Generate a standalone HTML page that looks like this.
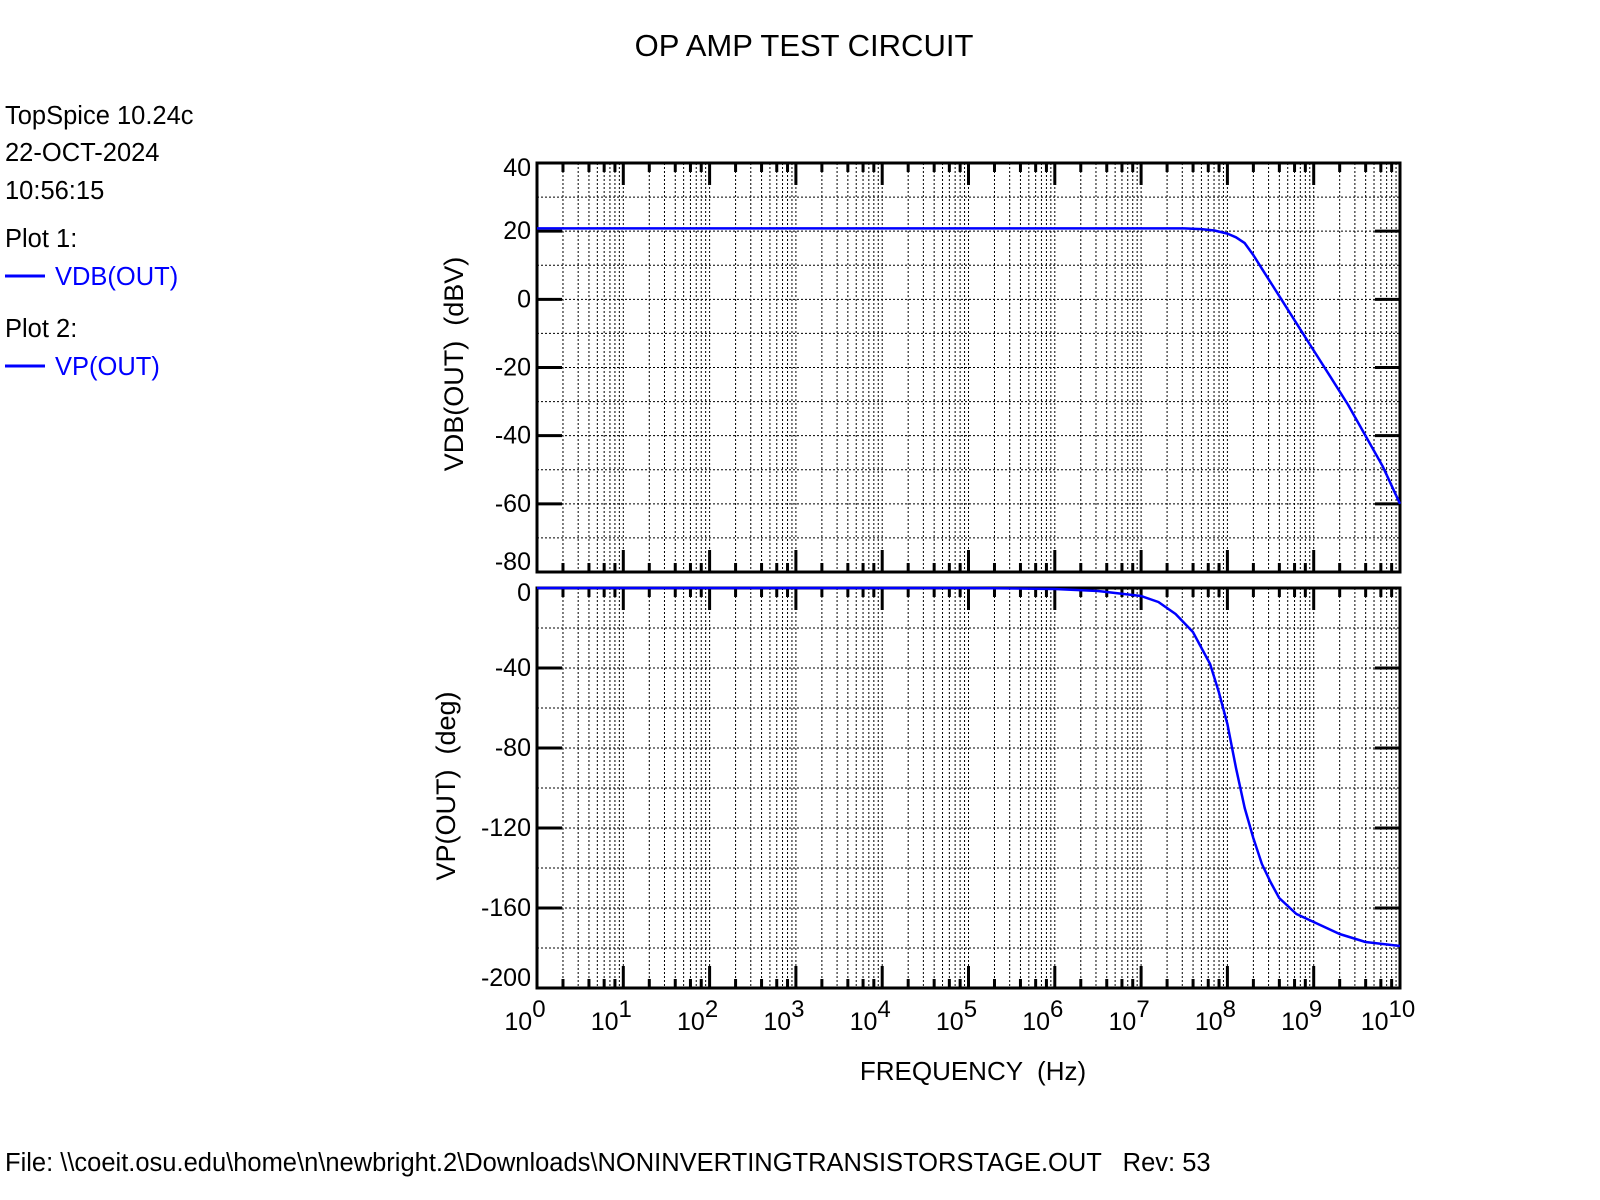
<!DOCTYPE html>
<html><head><meta charset="utf-8"><style>
html,body{margin:0;padding:0;background:#fff;}
svg{display:block;font-family:"Liberation Sans",Arial,sans-serif;}
text{white-space:pre;}
</style></head><body>
<svg id="chart" width="1600" height="1200" viewBox="0 0 1600 1200">
<text x="804" y="56" font-size="31" text-anchor="middle">OP AMP TEST CIRCUIT</text>
<g font-size="25.5">
<text x="5" y="124">TopSpice 10.24c</text>
<text x="5" y="161">22-OCT-2024</text>
<text x="5" y="199">10:56:15</text>
<text x="5" y="247">Plot 1:</text>
<line x1="5" y1="276" x2="45" y2="276" stroke="#0000ff" stroke-width="3"/>
<text x="55" y="285" fill="#0000ff">VDB(OUT)</text>
<text x="5" y="337">Plot 2:</text>
<line x1="5" y1="366" x2="45" y2="366" stroke="#0000ff" stroke-width="3"/>
<text x="55" y="375" fill="#0000ff">VP(OUT)</text>
</g>
<text transform="translate(463,364) rotate(-90)" font-size="27" text-anchor="middle">VDB(OUT)  (dBV)</text>
<text transform="translate(455,786) rotate(-90)" font-size="27" text-anchor="middle">VP(OUT)  (deg)</text>
<text x="973" y="1080" font-size="26" text-anchor="middle">FREQUENCY  (Hz)</text>
<text x="5" y="1171" font-size="25.5">File: \\coeit.osu.edu\home\n\newbright.2\Downloads\NONINVERTINGTRANSISTORSTAGE.OUT   Rev: 53</text>
<g id="plots"></g>
</svg>
<script>
const xDecades = [0,1,2,3,4,5,6,7,8,9,10];
const magTicks = [40,20,0,-20,-40,-60,-80];
const phaseTicks = [0,-40,-80,-120,-160,-200];
const magLogF = [0,7.5,7.7,7.85,8,8.1,8.2,8.3,8.4,8.6,8.8,9,9.2,9.4,9.6,9.8,10];
const magDb = [20.8,20.8,20.6,20.2,19.3,18.2,16.5,13,9,1,-7,-15,-23,-31,-40,-49,-60];
const phaseLogF = [0,5,6,6.5,7,7.2,7.4,7.6,7.8,7.9,8,8.1,8.2,8.3,8.4,8.5,8.6,8.8,9,9.3,9.6,10];
const phaseDeg = [0,0,-0.5,-1.5,-4,-7,-13,-22,-38,-52,-68,-90,-110,-125,-138,-147,-155,-163,-167,-173,-177,-179];

const NS='http://www.w3.org/2000/svg';
const g=document.getElementById('plots');
const X0=537,X1=1400;
const xs=lf=>X0+(lf-0)/(10-0)*(X1-X0);
function mk(tag,attrs,parent){const e=document.createElementNS(NS,tag);for(const k in attrs)e.setAttribute(k,attrs[k]);(parent||g).appendChild(e);return e;}

function panel(name,top,bot,ymax,ymin,gridStep,ticks,lf,vals){
  const ys=v=>top+(ymax-v)/(ymax-ymin)*(bot-top);
  const pg=mk('g',{});
  
  
  for(let d=0;d<10;d++){for(let m=2;m<=10;m++){const lf2=d+Math.log10(m);if(lf2>=10)continue;const x=xs(lf2);
    const l=mk('line',{x1:x,y1:top,x2:x,y2:bot,stroke:'#000','stroke-width':1,'stroke-dasharray':'2,2'},pg);
    
    
    if(m%2===0){
      const len=(m===10)?22:9;
      const t1=mk('line',{x1:x,y1:top,x2:x,y2:top+len,stroke:'#000','stroke-width':3},pg);
      
      
      const t2=mk('line',{x1:x,y1:bot,x2:x,y2:bot-len,stroke:'#000','stroke-width':3},pg);
      
      
    }
  }}
  for(let v=ymax-gridStep;v>ymin;v-=gridStep){const y=ys(v);
    const l=mk('line',{x1:X0,y1:y,x2:X1,y2:y,stroke:'#000','stroke-width':1,'stroke-dasharray':'2,2'},pg);
    
    
  }
  ticks.forEach((v,i)=>{const y=ys(v);
    if(v!==ymax&&v!==ymin){
      const a=mk('line',{x1:X0,y1:y,x2:X0+25,y2:y,stroke:'#000','stroke-width':3},pg);
      
      
      const b=mk('line',{x1:X1,y1:y,x2:X1-25,y2:y,stroke:'#000','stroke-width':3},pg);
      
      
    }
    let ty=y+8; if(v===ymax) ty=y+13; if(v===ymin) ty=y-2;
    const t=mk('text',{x:X0-6,y:ty,'font-size':25,'text-anchor':'end'},pg);
    t.textContent=String(v);
    
    
  });
  const fr=mk('rect',{x:X0,y:top,width:X1-X0,height:bot-top,fill:'none',stroke:'#000','stroke-width':3},pg);
  
  
  const pts=lf.map((f,i)=>xs(f).toFixed(1)+','+ys(vals[i]).toFixed(1)).join(' ');
  const p=mk('polyline',{points:pts,fill:'none',stroke:'#0000ff','stroke-width':2.5,'stroke-linejoin':'round'},pg);
  
  
}
panel('magnitude',163,572,40,-80,10,magTicks,magLogF,magDb);
panel('phase',588,988,0,-200,20,phaseTicks,phaseLogF,phaseDeg);

xDecades.forEach(d=>{
  const x=xs(d);
  const t=mk('text',{x:x-12,y:1030,'font-size':25,'text-anchor':'middle'});
  
  
  t.appendChild(document.createTextNode('10'));
  const s=document.createElementNS(NS,'tspan');
  s.setAttribute('dy','-13');s.setAttribute('font-size','24');
  s.textContent=String(d);
  t.appendChild(s);
});
</script>
</body></html>
